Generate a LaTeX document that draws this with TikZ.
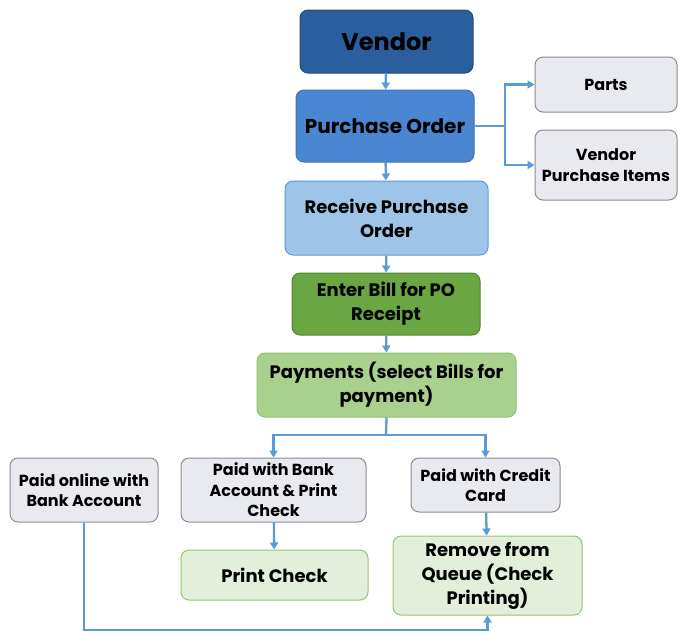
\documentclass[tikz,border=0pt]{standalone}
\usepackage{fontspec}
\setmainfont{Poppins}
\usepackage{xcolor}
\usetikzlibrary{arrows.meta}

\definecolor{vendorblue}{HTML}{2A5E9E}
\definecolor{poblue}{HTML}{4A86D2}
\definecolor{recvblue}{HTML}{9EC4E8}
\definecolor{billgreen}{HTML}{6AA742}
\definecolor{paygreen}{HTML}{A8D18D}
\definecolor{palegreen}{HTML}{E3EFDA}
\definecolor{boxgray}{HTML}{E8EAEF}
\definecolor{linkblue}{HTML}{5B9BD5}

\begin{document}
\begin{tikzpicture}[x=1pt, y=-1pt,
  every node/.style={rounded corners=8pt, align=center, inner sep=1pt, line width=1pt, font=\bfseries\fontsize{18}{24}\selectfont},
  graybox/.style={draw=black!45, fill=boxgray, font=\bfseries\fontsize{16}{20.5}\selectfont},
  greenbox/.style={draw=paygreen!70!billgreen, fill=palegreen},
  link/.style={draw=linkblue, line width=2.3pt, -{Triangle[length=7pt,width=8pt]}}]
  \useasboundingbox (0,0) rectangle (678,633);

  \node(vendor) [draw=vendorblue!80!black, fill=vendorblue, minimum width=173pt, minimum height=63pt, font=\bfseries\fontsize{24}{28}\selectfont] at (386.5,41.5) {Vendor};
  \node(po) [draw=poblue!85!black, fill=poblue, minimum width=178pt, minimum height=72pt, font=\bfseries\fontsize{20}{24}\selectfont] at (385,126) {Purchase Order};
  \node(parts) [graybox, minimum width=142pt, minimum height=55pt] at (606,84.5) {Parts};
  \node(items) [graybox, minimum width=142pt, minimum height=70pt] at (606,165) {Vendor\\Purchase Items};
  \node(recv) [draw=linkblue, fill=recvblue, minimum width=203pt, minimum height=74pt] at (386.5,218) {Receive Purchase\\Order};
  \node(bill) [draw=billgreen!80!black, fill=billgreen, minimum width=188pt, minimum height=62pt] at (386,304) {Enter Bill for PO\\Receipt};
  \node(pay) [draw=paygreen!60!billgreen, fill=paygreen, minimum width=259pt, minimum height=64pt] at (386.5,385) {Payments (select Bills for\\payment)};

  \node(online) [graybox, minimum width=148pt, minimum height=64pt] at (84,490) {Paid online with\\Bank Account};
  \node(bankchk) [graybox, minimum width=185pt, minimum height=64pt] at (273.5,490) {Paid with Bank\\Account \& Print\\Check};
  \node(credit) [graybox, minimum width=149pt, minimum height=54pt] at (485.5,485) {Paid with Credit\\Card};
  \node(print) [greenbox, minimum width=187pt, minimum height=50pt] at (274.5,575) {Print Check};
  \node(remove) [greenbox, minimum width=189pt, minimum height=79pt] at (487.5,575.5) {Remove from\\Queue (Check\\Printing)};

  \coordinate(posplit) at (505,126);
  \coordinate(payfork) at (386,435);
  \coordinate(bottom) at (84,630);

  \draw[link] (vendor) -- (po);
  \draw[link] (po) -- (recv);
  \draw[link] (recv) -- (bill);
  \draw[link] (bill) -- (pay);
  \draw[link] (po.east) -- (posplit) |- (parts.west);
  \draw[link] (posplit) |- (items.west);
  \draw[line width=2.3pt, draw=linkblue] (pay.south) -- (payfork);
  \draw[link] (payfork) -| (bankchk.north);
  \draw[link] (payfork) -| (credit.north);
  \draw[link] (bankchk) -- (print);
  \draw[link] (credit) -- (remove);
  \draw[link] (online.south) -- (bottom) -| (remove.south);
\end{tikzpicture}
\end{document}
